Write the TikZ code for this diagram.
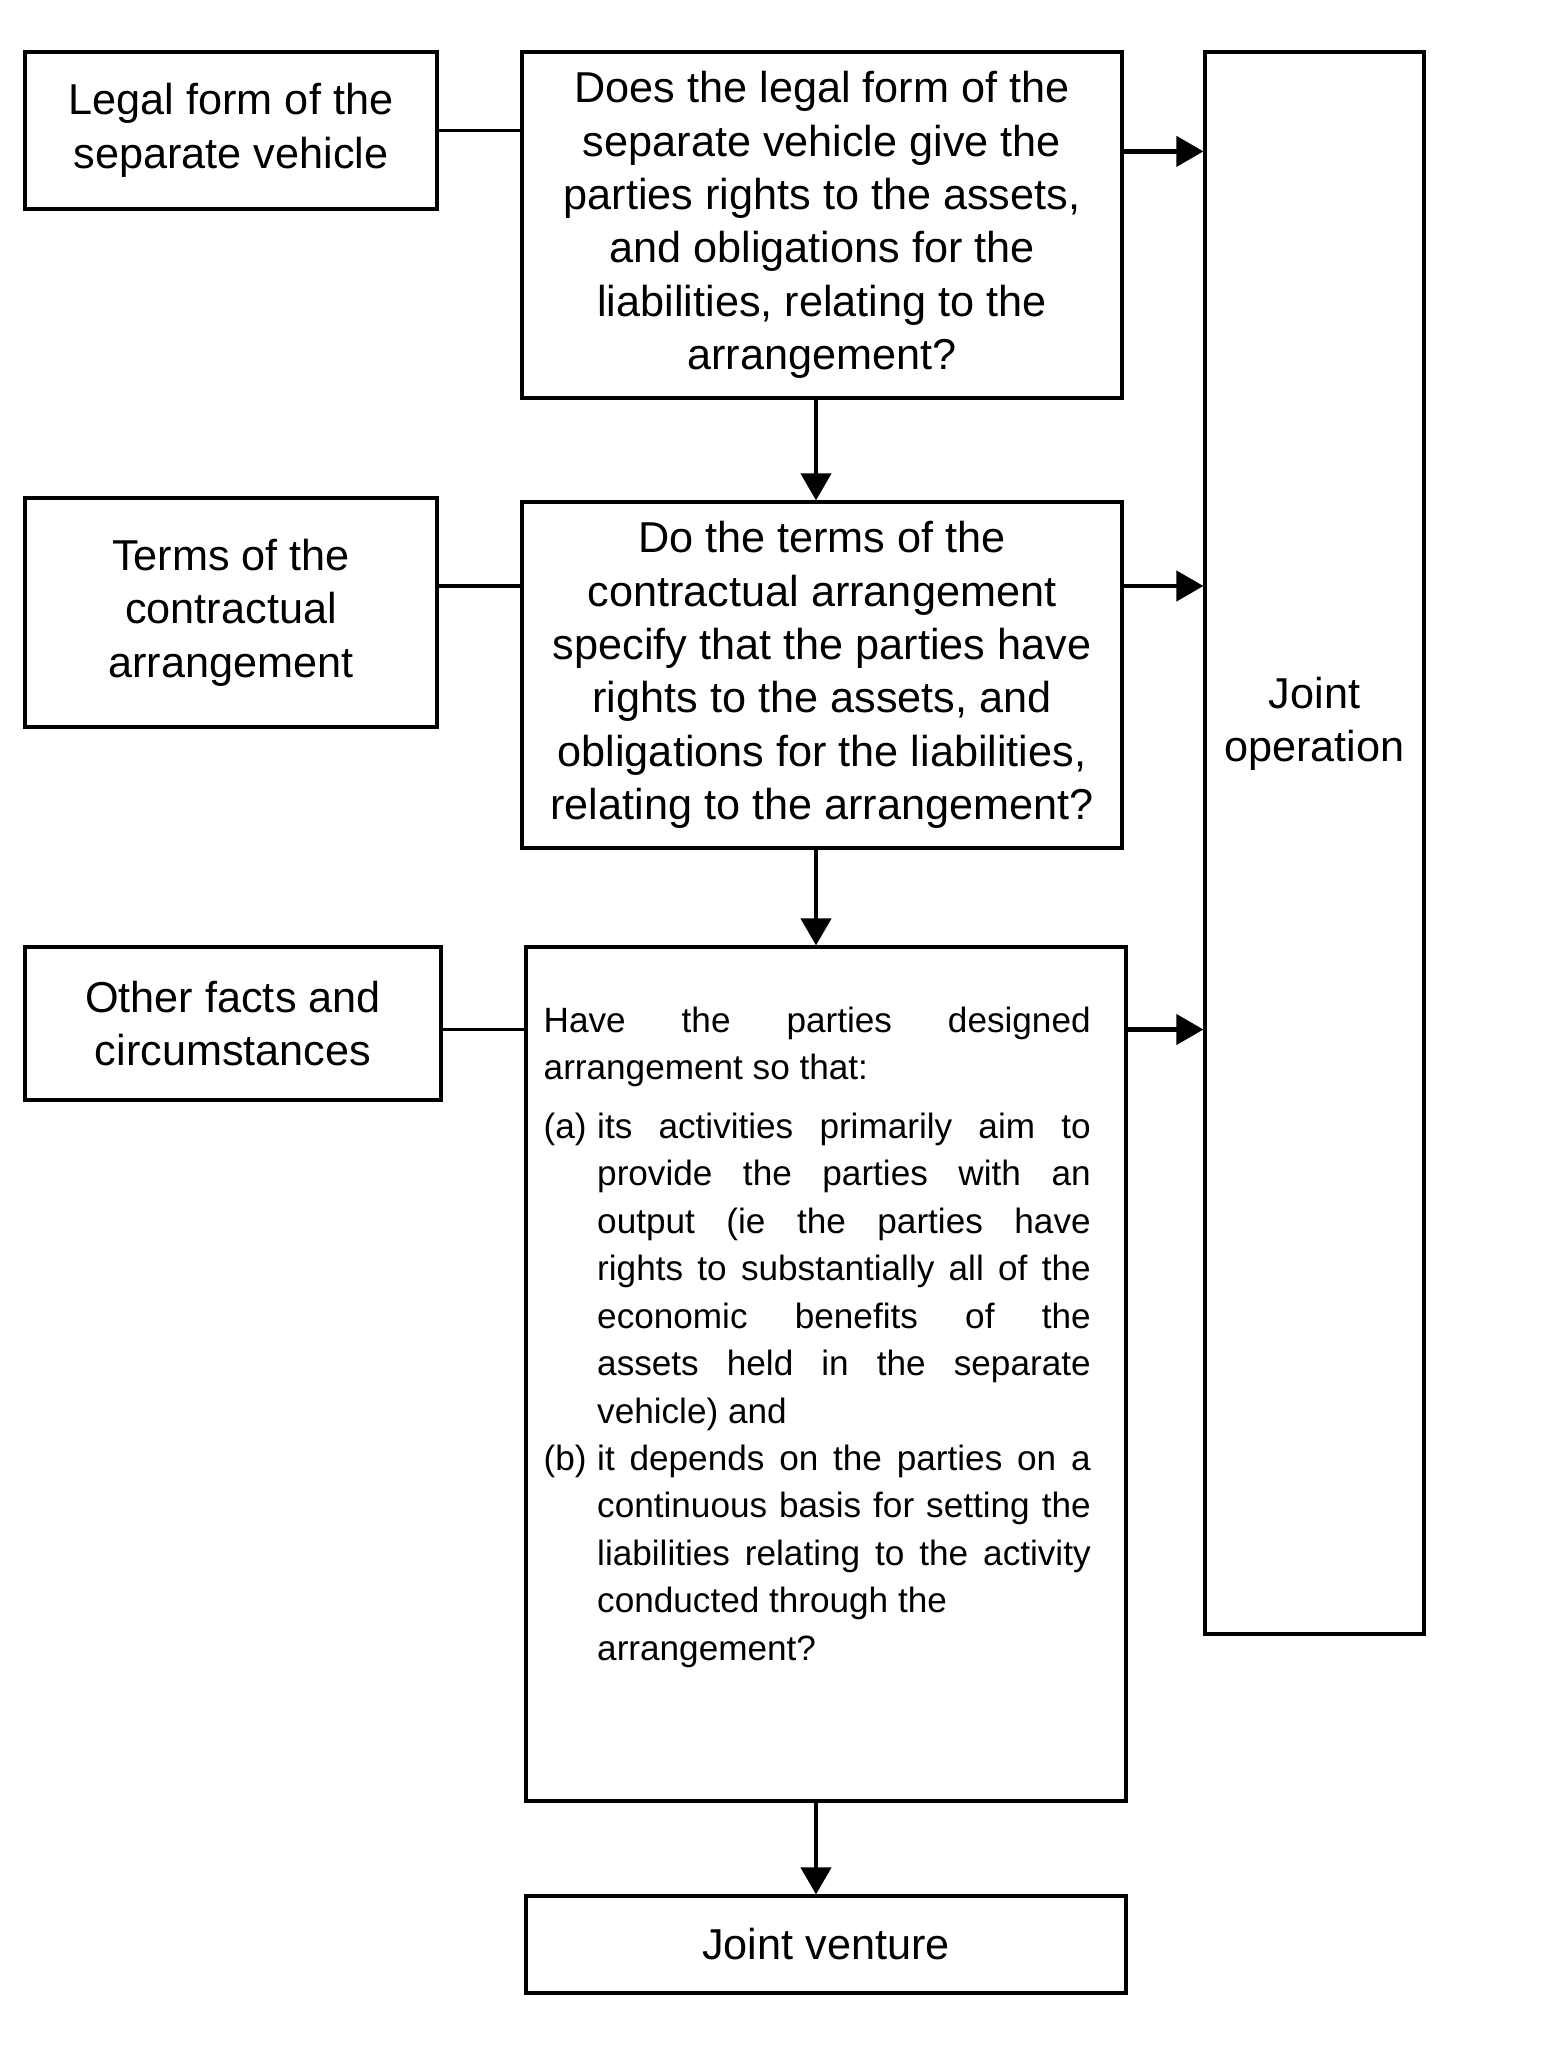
\documentclass[tikz,border=0pt]{standalone}
\usepackage{fontspec}
\setmainfont{Liberation Sans}
\usetikzlibrary{arrows.meta,positioning,calc}
\tikzset{
	box/.style={draw, line width=0.9pt, rectangle, inner sep=0pt, align=center, font=\fontsize{12.3}{15.2}\selectfont},
	link/.style={line width=1pt},
	arrow/.style={line width=1.2pt, -{Triangle[length=0.27cm, width=0.3cm]}}
}

\begin{document}
\begin{tikzpicture}[
		leftbox/.style={box, minimum width=4.12cm},
		qbox/.style={box, minimum width=6.0cm},
		smalltext/.style={inner sep=0pt, anchor=north west, font=\fontsize{10}{13.5}\selectfont}
		]
	\useasboundingbox (0,0) rectangle (15.40,-20.47);
	% left column
	\node[leftbox, minimum height=1.57cm] (legal) at (2.31,-1.305) {Legal form of the\\separate vehicle};
	\node[leftbox, minimum height=2.29cm] (terms) at (2.31,-6.125) {Terms of the\\contractual\\arrangement};
	\node[leftbox, minimum width=4.16cm, minimum height=1.53cm] (other) at (2.33,-10.235) {Other facts and\\circumstances};
	% questions
	\node[qbox, minimum height=3.46cm] (q1) at (8.22,-2.25) {Does the legal form of the\\separate vehicle give the\\parties rights to the assets,\\and obligations for the\\liabilities, relating to the\\arrangement?};
	\node[qbox, minimum height=3.46cm] (q2) at (8.22,-6.75) {Do the terms of the\\contractual arrangement\\specify that the parties have\\rights to the assets, and\\obligations for the liabilities,\\relating to the arrangement?};
	\node[qbox, minimum height=8.54cm] (q3) at (8.26,-13.74) {};
	\node[smalltext] (q3text) at (5.43,-10.06) {\parbox[t]{5.47cm}{\noindent Have the parties designed\linebreak arrangement so that:\par\vspace{3.2pt}
		\hangindent=0.535cm\hangafter=1\noindent\makebox[0.535cm][l]{(a)}its activities primarily aim to\linebreak provide the parties with an\linebreak output (ie the parties have\linebreak rights to substantially all of the\linebreak economic benefits of the\linebreak assets held in the separate\linebreak vehicle) and\par
		\hangindent=0.535cm\hangafter=1\noindent\makebox[0.535cm][l]{(b)}it depends on the parties on a\linebreak continuous basis for setting the\linebreak liabilities relating to the activity\linebreak conducted through the\newline arrangement?\par}};
	% outcomes
	\node[box, minimum width=2.19cm, minimum height=15.82cm] (joint) at (13.145,-8.43) {};
	\node[box, draw=none] (jointtext) at (13.145,-7.24) {Joint\\operation};
	\node[qbox, minimum height=0.97cm] (venture) at (8.26,-19.445) {Joint venture};
	\coordinate (spine) at (8.16,0);
	% connectors
	\draw[link] (legal.east) -- (legal.east -| q1.west);
	\draw[link] ([yshift=0.89cm]q2.west -| terms.east) -- ([yshift=0.89cm]q2.west);
	\draw[link] ([yshift=-0.06cm]other.east) -- ([yshift=-0.06cm]other.east -| q3.west);
	\draw[arrow] ([yshift=0.736cm]q1.east) -- ([yshift=0.736cm]q1.east -| joint.west);
	\draw[arrow] ([yshift=0.89cm]q2.east) -- ([yshift=0.89cm]q2.east -| joint.west);
	\draw[arrow] ([yshift=-0.06cm]other.east -| q3.east) -- ([yshift=-0.06cm]other.east -| joint.west);
	\draw[arrow] (q1.south -| spine) -- (q2.north -| spine);
	\draw[arrow] (q2.south -| spine) -- (q3.north -| spine);
	\draw[arrow] (q3.south -| spine) -- (venture.north -| spine);
\end{tikzpicture}
\end{document}
